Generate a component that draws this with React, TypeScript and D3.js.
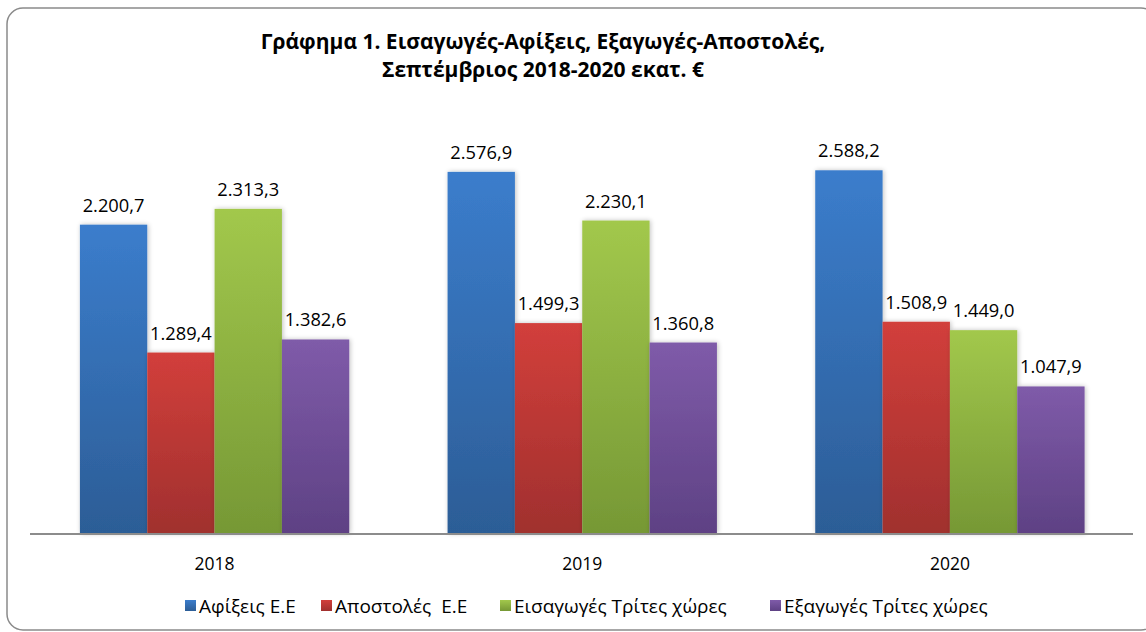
import React from "react";
import * as d3 from "d3";

const years = ["2018", "2019", "2020"];
const seriesNames = ["Αφίξεις Ε.Ε", "Αποστολές  Ε.Ε", "Εισαγωγές Τρίτες χώρες", "Εξαγωγές Τρίτες χώρες"];
const afixeis = [2200.7, 2576.9, 2588.2];
const apostoles = [1289.4, 1499.3, 1508.9];
const eisagogesTrites = [2313.3, 2230.1, 1449.0];
const exagogesTrites = [1382.6, 1360.8, 1047.9];
const seriesValues = [afixeis, apostoles, eisagogesTrites, exagogesTrites];
const titleLines = ["Γράφημα 1. Εισαγωγές-Αφίξεις, Εξαγωγές-Αποστολές,", "Σεπτέμβριος 2018-2020 εκατ. €"];

const colors = [
  { top: "#3b7dcc", bottom: "#2c5d96" },
  { top: "#d23f3b", bottom: "#a0302e" },
  { top: "#a2c84c", bottom: "#769835" },
  { top: "#7f5ba9", bottom: "#5e4184" },
];

const W = 1146;
const H = 632;
const FONT = "'Open Sans', 'Noto Sans', sans-serif";

const fmt = (v: number) => {
  const s = v.toFixed(1);
  const [i, d] = s.split(".");
  return i.replace(/\B(?=(\d{3})+(?!\d))/g, ".") + "," + d;
};

export default function App() {
  const x0 = d3.scaleBand<string>().domain(years).range([30.75, 1133.75]).padding(0);
  const bw = x0.bandwidth();
  const barW = bw / (4 + 1.46);
  const x1 = d3
    .scaleBand<string>()
    .domain(seriesNames)
    .range([barW * 0.73, barW * 0.73 + barW * 4])
    .padding(0);
  const y = d3.scaleLinear().domain([0, 3000]).range([533.5, 112.5]);

  const legendX = [185, 321, 500, 770];

  return (
    <svg
      width={W}
      height={H}
      style={{ position: "absolute", left: 0, top: 0, background: "#fff" }}
      fontFamily={FONT}
    >
      <defs>
        {colors.map((c, i) => (
          <linearGradient key={i} id={`g${i}`} x1="0" y1="0" x2="0" y2="1">
            <stop offset="0" stopColor={c.top} />
            <stop offset="1" stopColor={c.bottom} />
          </linearGradient>
        ))}
        <filter id="sh" x="-20%" y="-10%" width="140%" height="120%">
          <feGaussianBlur in="SourceAlpha" stdDeviation="2.5" />
          <feOffset dx="1" dy="0" result="b" />
          <feComponentTransfer>
            <feFuncA type="linear" slope="0.25" />
          </feComponentTransfer>
          <feMerge>
            <feMergeNode />
            <feMergeNode in="SourceGraphic" />
          </feMerge>
        </filter>
      </defs>
      <rect x={7} y={8} width={1150} height={622} rx={16} ry={16} fill="#fff" stroke="#8a8a8a" strokeWidth={1.5} />

      {titleLines.map((t, i) => (
        <text key={i} x={543} y={49 + i * 28} textAnchor="middle" fontWeight="bold" fontSize={21} fill="#000">
          {t}
        </text>
      ))}

      {years.map((yr, yi) => (
        <g key={yr} transform={`translate(${x0(yr)},0)`}>
          {seriesNames.map((s, si) => {
            const v = seriesValues[si][yi];
            const bx = x1(s)!;
            return (
              <rect
                key={s}
                x={bx}
                y={y(v)}
                width={x1.bandwidth()}
                height={y(0) - y(v)}
                fill={`url(#g${si})`}
                filter="url(#sh)"
              />
            );
          })}
          {seriesNames.map((s, si) => {
            const v = seriesValues[si][yi];
            const bx = x1(s)!;
            return (
              <text
                key={s}
                x={bx + x1.bandwidth() / 2}
                y={y(v) - 13}
                textAnchor="middle"
                fontSize={18.3}
                fill="#000"
              >
                {fmt(v)}
              </text>
            );
          })}
          <text x={bw / 2} y={570} textAnchor="middle" fontSize={17.5} fill="#000">
            {yr}
          </text>
        </g>
      ))}

      <line x1={30} x2={1133} y1={534} y2={534} stroke="#8c8c8c" strokeWidth={1.8} />

      {seriesNames.map((s, i) => (
        <g key={s} transform={`translate(${legendX[i]},0)`}>
          <rect x={0} y={600} width={11} height={11} fill={`url(#g${i})`} />
          <text x={14} y={613} fontSize={19} fill="#000" style={{ whiteSpace: "pre" }}>
            {s}
          </text>
        </g>
      ))}
    </svg>
  );
}
